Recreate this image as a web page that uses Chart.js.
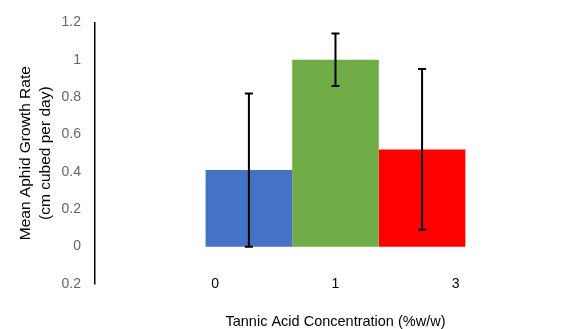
<!DOCTYPE html>
<html>
<head>
<meta charset="utf-8">
<script src="https://cdn.jsdelivr.net/npm/chart.js@4.4.0/dist/chart.umd.min.js"></script>
<style>
    html, body { margin: 0; padding: 0; background: #fff; }
    #wrap { width: 576px; height: 329px; }
</style>
</head>
<body>
<div id="wrap"><canvas id="myChart"></canvas></div>
<script>
// tannic acid concentrations (%w/w) and the mean growth rate for each
const concentrations = ['0', '1', '3'];
const meanGrowth = [0.41, 1.0, 0.52];
const growthError = [0.41, 0.14, 0.43];
const barColors = ['#4472C4', '#70AD47', '#FF0000'];

const yMin = -0.2;
const yMax = 1.2;
const yStep = 0.2;

// bars are one group, the concentration labels sit on their own axis
const axisLabels = ['', ...concentrations, ''];

const errorBars = {
    id: 'errorBars',
    afterDatasetsDraw(chart) {
        const ctx = chart.ctx;
        const y = chart.scales.y;
        ctx.save();
        ctx.strokeStyle = '#000';
        ctx.lineWidth = 2;
        chart.data.datasets.forEach((ds, i) => {
            const bar = chart.getDatasetMeta(i).data[0];
            const top = y.getPixelForValue(meanGrowth[i] + growthError[i]);
            const bottom = y.getPixelForValue(meanGrowth[i] - growthError[i]);
            ctx.beginPath();
            ctx.moveTo(bar.x, top);
            ctx.lineTo(bar.x, bottom);
            ctx.moveTo(bar.x - 4, top);
            ctx.lineTo(bar.x + 4, top);
            ctx.moveTo(bar.x - 4, bottom);
            ctx.lineTo(bar.x + 4, bottom);
            ctx.stroke();
        });
        ctx.restore();
    },
};

let ctx = document.getElementById('myChart').getContext('2d');

new Chart(ctx, {
    type: 'bar',
    data: {
        labels: [''],
        datasets: concentrations.map((c, i) => ({
            label: c,
            data: [meanGrowth[i]],
            backgroundColor: barColors[i],
            borderWidth: 0,
            categoryPercentage: 0.54,
            barPercentage: 1,
        })),
    },
    options: {
        responsive: true,
        maintainAspectRatio: false,
        animation: false,
        layout: {
            padding: { top: 20, right: 0, bottom: -2, left: 10 },
        },
        plugins: {
            legend: { display: false },
            tooltip: { enabled: false },
        },
        scales: {
            x: {
                display: false,
            },
            x2: {
                type: 'category',
                position: 'bottom',
                labels: axisLabels,
                offset: false,
                grid: { display: false, drawTicks: false },
                border: { display: false },
                ticks: {
                    autoSkip: false,
                    maxRotation: 0,
                    mirror: true,
                    padding: -8.4,
                    color: '#000',
                    font: { family: 'Liberation Sans', size: 14 },
                },
                title: {
                    display: true,
                    text: 'Tannic Acid Concentration (%w/w)',
                    color: '#000',
                    font: { family: 'Liberation Sans', size: 14.5 },
                    padding: { top: 46.4, bottom: 0 },
                },
            },
            y: {
                min: yMin,
                max: yMax,
                ticks: {
                    stepSize: yStep,
                    padding: 14,
                    color: '#666',
                    font: { family: 'Liberation Sans', size: 14 },
                    callback: (v) => String(Math.abs(Math.round(v * 10) / 10)),
                },
                grid: {
                    drawTicks: false,
                    lineWidth: 1.5,
                    color: (c) => (c.tick && c.tick.value === 0 ? '#000' : 'rgba(0,0,0,0)'),
                },
                border: { display: true, color: '#000', width: 1.5 },
                title: {
                    display: true,
                    text: ['Mean Aphid Growth Rate', '(cm cubed per day)'],
                    color: '#000',
                    font: { family: 'Liberation Sans', size: 15.5, lineHeight: '20px' },
                    padding: { top: 6, bottom: -8.5 },
                },
            },
        },
    },
    plugins: [errorBars],
});
</script>
</body>
</html>
